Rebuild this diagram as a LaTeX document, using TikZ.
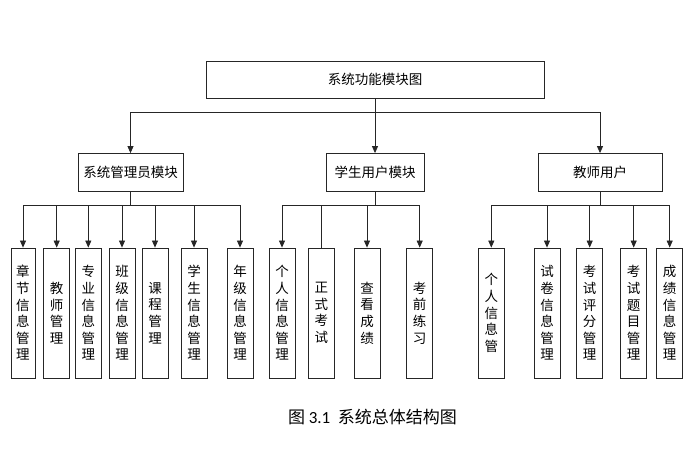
\documentclass[tikz,border=0pt]{standalone}
\usepackage{fontspec}
\setmainfont{Noto Sans CJK SC}
\newfontfamily\latinfont{Carlito}
\usetikzlibrary{arrows.meta, positioning, calc}

\begin{document}
\begin{tikzpicture}[x=1pt, y=-1pt,
        >={Triangle[length=7pt, width=6pt]},
        box/.style={draw=black!85, line width=0.8pt, align=center, inner sep=0pt,
                    font=\fontsize{13.5}{16}\selectfont},
        modbox/.style={box, minimum height=38pt},
        leaf/.style={box, minimum width=26pt, minimum height=130pt,
                     font=\fontsize{13.5}{16.6}\selectfont},
        arr/.style={->, line width=0.8pt, draw=black!85},
        lin/.style={line width=0.8pt, draw=black!85},
    ]
    \useasboundingbox (0,0) rectangle (691,462);
    \node[modbox, minimum width=338pt, minimum height=37pt] (top) at (375, 79.5) {系统功能模块图};
    \node[modbox, minimum width=105pt] (admin) at (130.5, 172.5) {系统管理员模块};
    \node[modbox, minimum width=98pt] (student) at (375, 172.5) {学生用户模块};
    \node[modbox, minimum width=124pt] (teacher) at (600, 172.5) {教师用户};
    \coordinate (topbus) at (375, 112);
    \draw[arr] (top.south) -- (topbus) -| (admin.north);
    \draw[arr] (top.south) -- (student.north);
    \draw[arr] (topbus) -| (teacher.north);
    \node[leaf, minimum width=24pt] (zjxx) at (23, 313) {章\\节\\信\\息\\管\\理};
    \node[leaf] (jsgl) at (56.7, 313) {教\\师\\管\\理};
    \node[leaf] (zyxx) at (88.3, 313) {专\\业\\信\\息\\管\\理};
    \node[leaf] (bjxx) at (122, 313) {班\\级\\信\\息\\管\\理};
    \node[leaf] (kcgl) at (155, 313) {课\\程\\管\\理};
    \node[leaf] (xsxx) at (194, 313) {学\\生\\信\\息\\管\\理};
    \node[leaf] (njxx) at (240, 313) {年\\级\\信\\息\\管\\理};
    \coordinate (adminbus) at (130.5, 205);
    \draw[lin] (admin.south) -- (adminbus);
    \draw[arr] (adminbus) -| (zjxx.north);
    \draw[arr] (adminbus) -| (jsgl.north);
    \draw[arr] (adminbus) -| (zyxx.north);
    \draw[arr] (adminbus) -| (bjxx.north);
    \draw[arr] (adminbus) -| (kcgl.north);
    \draw[arr] (adminbus) -| (xsxx.north);
    \draw[arr] (adminbus) -| (njxx.north);
    \node[leaf] (grxx) at (282, 313) {个\\人\\信\\息\\管\\理};
    \node[leaf] (zsks) at (321.3, 313) {正\\式\\考\\试};
    \node[leaf] (ckcj) at (367, 313) {查\\看\\成\\绩};
    \node[leaf] (kqlx) at (419.7, 313) {考\\前\\练\\习};
    \coordinate (studentbus) at (375, 205);
    \draw[lin] (student.south) -- (studentbus);
    \draw[arr] (studentbus) -| (grxx.north);
    \draw[lin] (studentbus) -| (zsks.north);
    \draw[arr] (studentbus) -| (ckcj.north);
    \draw[arr] (studentbus) -| (kqlx.north);
    \node[leaf] (jsgr) at (491.3, 313) {个\\人\\信\\息\\管};
    \node[leaf] (sjxx) at (547, 313) {试\\卷\\信\\息\\管\\理};
    \node[leaf] (kspf) at (589.7, 313) {考\\试\\评\\分\\管\\理};
    \node[leaf] (kstm) at (633.7, 313) {考\\试\\题\\目\\管\\理};
    \node[leaf] (cjxx) at (669.7, 313) {成\\绩\\信\\息\\管\\理};
    \coordinate (teacherbus) at (600, 205);
    \draw[lin] (teacher.south) -- (teacherbus);
    \draw[arr] (teacherbus) -| (jsgr.north);
    \draw[arr] (teacherbus) -| (sjxx.north);
    \draw[arr] (teacherbus) -| (kspf.north);
    \draw[arr] (teacherbus) -| (kstm.north);
    \draw[arr] (teacherbus) -| (cjxx.north);
    \node[font=\fontsize{17}{20}\selectfont, inner sep=0pt] (caption) at (372.5, 417)
        {图 {\latinfont 3.1}\ \ 系统总体结构图};
\end{tikzpicture}
\end{document}
